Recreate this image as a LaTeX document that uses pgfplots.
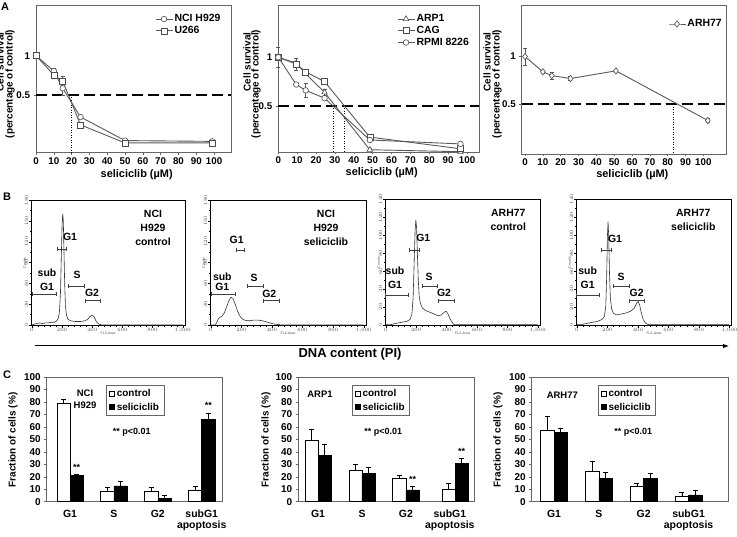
\documentclass[border=0pt]{standalone}
\usepackage{pgfplots}
\pgfplotsset{compat=1.18}
\usepackage{fontspec}
\setmainfont{Liberation Sans}
\usetikzlibrary{arrows.meta}
\newcommand{\fs}[1]{\fontsize{#1}{#1}\selectfont\bfseries}
\begin{document}
\begin{tikzpicture}[x=1bp,y=1bp]
\path[use as bounding box] (0,0) rectangle (737,537);
\pgfplotsset{
 pA/.style={scale only axis, anchor=south west, clip=false,
  axis line style={black!60, line width=0.6bp},
  tick pos=left, tick align=outside, major tick length=2.5bp,
  tick style={black!60, line width=0.6bp},
  /pgf/number format/assume math mode=true,
  ticklabel style={font=\fs{9.8}},
  xticklabel style={yshift=1bp},
  xtick={0,10,...,100}, ytick={0.5,1},
  legend style={draw=none, fill=none, font=\fs{10.5}, anchor=north west, row sep=0bp, inner sep=0bp, nodes={inner sep=1.5bp}},
  legend cell align=left,
  error bars/y dir=both, error bars/y explicit,
  error bars/error bar style={line width=0.6bp, black!65},
  error bars/error mark options={rotate=90, mark size=2bp, line width=0.6bp, black!65},
 },
 ln/.style={black!65, line width=0.9bp, mark options={fill=white, solid, line width=0.6bp, draw=black!70}},
 half/.style={black, line width=2.2bp, dash pattern=on 11bp off 5bp, error bars/y dir=none},
 vdot/.style={black, line width=0.5bp, dotted, error bars/y dir=none},
 pB/.style={scale only axis, anchor=south west, clip=false,
  axis line style={black, line width=0.5bp},
  xmin=-5, xmax=1015, xtick={0,200,...,1000}, minor x tick num=4, minor y tick num=1,
  tick pos=left, tick align=outside, major tick length=2bp, minor tick length=1bp,
  tick style={black, line width=0.3bp},
  ticklabel style={font=\fontsize{3.5}{4}\selectfont, inner sep=0.6bp, text=black!70},
  yticklabel style={rotate=90, anchor=south},
  xlabel={FL2-Area}, ylabel={Counts},
  label style={font=\fontsize{3.5}{4}\selectfont, text=black!70},
  xlabel style={yshift=5bp}, ylabel style={yshift=-5bp},
  height=125.7bp,
 },
 hist/.style={black!80, line width=0.6bp},
 pC/.style={scale only axis, anchor=south west, ybar, bar width=0.3,
  ymin=0, ymax=100, ytick={0,10,...,100},
  xtick={0,1,2,3}, xticklabels={G1,S,G2,{subG1\\apoptosis}},
  xticklabel style={align=center, font=\fontsize{10.5}{11.5}\selectfont\bfseries, yshift=-2bp},
  yticklabel style={font=\fs{10}},
  /pgf/number format/assume math mode=true,
  axis line style={black!60, line width=0.5bp}, tick pos=left, xtick style={draw=none},
  ytick style={black!60, line width=0.5bp}, major tick length=2.5bp, tick align=outside,
  height=124.7bp,
  error bars/y dir=plus, error bars/y explicit,
  error bars/error bar style={black, line width=0.6bp},
  error bars/error mark options={rotate=90, mark size=2.5bp, line width=0.6bp, black},
  legend image code/.code={\draw[#1] (0bp,-2.5bp) rectangle (5bp,2.5bp);},
  legend style={draw=black!60, line width=0.5bp, fill=white, anchor=north west, font=\fs{10}, inner xsep=3bp, inner ysep=2bp, row sep=1bp},
  legend cell align=left,
 },
 cbar/.style={fill=white, draw=black, line width=0.6bp, bar shift=-0.15},
 sbar/.style={fill=black, draw=black, line width=0.6bp, bar shift=0.15},
}
% ---------------- Panel A ----------------
\node[font=\fs{11}] at (5,530) {A};
\begin{axis}[pA, at={(36bp,384.3bp)}, width=195bp, height=147.7bp,
 xmin=0, xmax=109.5, ymin=-0.234, ymax=1.645,
 legend style={at={(axis description cs:0.61,0.946)}}]
\addplot[half, forget plot] coordinates {(0,0.5) (109.5,0.5)};
\addplot[vdot, forget plot] coordinates {(20,0.5) (20,-0.234)};
\addplot[ln, mark=*, mark size=2.8bp] coordinates {(0,1) +- (0,0.02) (10,0.805) +- (0,0.03) (15,0.585) +- (0,0.085) (25,0.22) +- (0,0.01) (50,-0.08) +- (0,0.01) (99,-0.09) +- (0,0.01)};
\addlegendentry{NCI H929}
\addplot[ln, mark=square*, mark size=3bp] coordinates {(0,1) +- (0,0.02) (10,0.754) +- (0,0.03) (15,0.678) +- (0,0.065) (25,0.12) +- (0,0.01) (50,-0.11) +- (0,0.01) (99,-0.11) +- (0,0.01)};
\addlegendentry{U266}
\end{axis}
\node[font=\fs{10}, rotate=90] at (0,475) {Cell survival};
\node[font=\fs{10}, rotate=90] at (10,453) {(percentage of control)};
\node[font=\fs{11}] at (136.7,362.5) {seliciclib (µM)};

\begin{axis}[pA, at={(278.3bp,385bp)}, width=201bp, height=147bp,
 xmin=0, xmax=106.5, ymin=0.027, ymax=1.537,
 legend style={at={(axis description cs:0.59,0.946)}}]
\addplot[half, forget plot] coordinates {(0,0.5) (106.5,0.5)};
\addplot[vdot, forget plot] coordinates {(29,0.5) (29,0.027)};
\addplot[vdot, forget plot] coordinates {(35,0.5) (35,0.027)};
\addplot[ln, mark=triangle*, mark size=3.2bp] coordinates {(0,1.0) +- (0,0.1) (9.5,0.94) +- (0,0.02) (14.5,0.83) +- (0,0.02) (24.5,0.64) +- (0,0.03) (48.5,0.05) +- (0,0.01) (96.5,0.03) +- (0,0.01)};
\addlegendentry{ARP1}
\addplot[ln, mark=square*, mark size=3bp] coordinates {(0,1.0) +- (0,0.03) (9.5,0.93) +- (0,0.06) (14.5,0.85) +- (0,0.02) (24.5,0.75) +- (0,0.01) (48.5,0.18) +- (0,0.01) (96.5,0.06) +- (0,0.01)};
\addlegendentry{CAG}
\addplot[ln, mark=*, mark size=2.8bp] coordinates {(0,1.0) +- (0,0.02) (9.5,0.72) +- (0,0.02) (14.5,0.66) +- (0,0.07) (24.5,0.58) +- (0,0.02) (48.5,0.15) +- (0,0.01) (96.5,0.11) +- (0,0.01)};
\addlegendentry{RPMI 8226}
\end{axis}
\node[font=\fs{10}, rotate=90] at (247,475) {Cell survival};
\node[font=\fs{10}, rotate=90] at (256,453) {(percentage of control)};
\node[font=\fs{11}] at (381.7,364) {seliciclib (µM)};

\begin{axis}[pA, at={(521.7bp,383bp)}, width=205bp, height=149bp,
 xmin=-1.85, xmax=113.1, ymin=-0.021, ymax=1.54,
 legend style={at={(axis description cs:0.713,0.913)}}]
\addplot[half, forget plot] coordinates {(-1.85,0.5) (113.1,0.5)};
\addplot[vdot, forget plot] coordinates {(83,0.5) (83,-0.021)};
\addplot[ln, mark=diamond*, mark size=3.2bp] coordinates {(0,1.0) +- (0,0.09) (10,0.84) +- (0,0.02) (15,0.80) +- (0,0.04) (25.5,0.77) +- (0,0.02) (51,0.85) +- (0,0.01) (102.5,0.33) +- (0,0.02)};
\addlegendentry{ARH77}
\end{axis}
\node[font=\fs{10}, rotate=90] at (487,475) {Cell survival};
\node[font=\fs{10}, rotate=90] at (497,453) {(percentage of control)};
\node[font=\fs{11}] at (632.3,362) {seliciclib (µM)};

% ---------------- Panel B ----------------
\node[font=\fs{11}] at (7,340) {B};
\begin{axis}[pB, at={(31bp,211.3bp)}, width=154bp, ymin=-1, ymax=180, ytick={0,30,...,180}]
\addplot[hist] coordinates {(0,0) (15,1) (30,2) (50,3) (70,2) (90,3) (110,3) (130,4) (150,4) (165,6) (175,9) (183,18) (190,45) (196,100) (201,145) (205,160) (209,150) (213,110) (218,60) (223,28) (230,14) (240,8) (260,6) (290,5) (320,5) (350,6) (370,8) (385,12) (400,14) (412,12) (425,6) (440,2) (460,0) (1000,0)};
\end{axis}
\begin{axis}[pB, at={(210bp,211.3bp)}, width=156bp, ymin=-1, ymax=180, ytick={0,30,...,180}]
\addplot[hist] coordinates {(0,0) (30,0) (40,4) (50,9) (60,11) (75,13) (90,18) (105,27) (120,36) (132,40) (145,38) (160,30) (175,20) (190,13) (205,9) (220,7) (250,6) (280,7) (310,7) (340,6) (370,4) (400,2) (430,1) (460,0) (1000,0)};
\end{axis}
\begin{axis}[pB, at={(385bp,211.3bp)}, width=155bp, height=126.4bp, ymin=-1, ymax=140, ytick={0,20,...,140}]
\addplot[hist] coordinates {(0,0) (30,0) (50,1) (80,2) (110,3) (140,4) (160,6) (172,12) (180,30) (187,70) (193,105) (198,117) (203,108) (208,80) (214,50) (220,32) (228,24) (240,19) (260,16) (290,14) (320,12) (345,10) (365,11) (385,14) (398,15) (410,12) (422,7) (435,3) (450,0) (1000,0)};
\end{axis}
\begin{axis}[pB, at={(576bp,211.3bp)}, width=155.7bp, height=126.4bp, ymin=-1, ymax=140, ytick={0,20,...,140}]
\addplot[hist] coordinates {(0,0) (30,0) (50,1) (80,2) (110,3) (140,4) (165,6) (180,9) (190,20) (196,55) (201,100) (205,115) (209,100) (214,60) (220,30) (228,18) (240,13) (260,11) (290,12) (320,13) (350,15) (375,18) (392,24) (402,26) (412,22) (422,14) (435,6) (450,2) (470,0) (1000,0)};
\end{axis}
\tikzset{brk/.style={black!75, line width=0.6bp, {Bar[width=4bp]}-{Bar[width=4bp]}},
 bl/.style={font=\fs{10.5}}, bt/.style={font=\fontsize{10.5}{14.3}\selectfont\bfseries, align=center}}
% B1
\node[bt] at (153,309.3) {NCI\\H929\\control};
\node[bl] at (70,300) {G1}; \draw[brk] (57,288) -- (67,288);
\node[bl] at (47,264) {sub}; \node[bl] at (47,250) {G1}; \draw[brk] (32,243) -- (57,243);
\node[bl] at (77,262) {S}; \draw[brk] (68,251) -- (85,251);
\node[bl] at (92,244) {G2}; \draw[brk] (85,236.3) -- (100.7,236.3);
% B2
\node[bt] at (326,309.3) {NCI\\H929\\seliciclib};
\node[bl] at (236.7,297) {G1}; \draw[brk] (236,287) -- (245,287);
\node[bl] at (222.3,260.3) {sub}; \node[bl] at (222.3,250.3) {G1}; \draw[brk] (211,242.7) -- (236,242.7);
\node[bl] at (254,258.7) {S}; \draw[brk] (246.7,251) -- (263.3,251);
\node[bl] at (269.3,242.7) {G2}; \draw[brk] (263.3,236.3) -- (279.3,236.3);
% B3
\node[font=\fontsize{10.5}{13.4}\selectfont\bfseries, align=center] at (508.3,317) {ARH77\\control};
\node[bl] at (423.3,298.7) {G1}; \draw[brk] (409.3,287) -- (420,287);
\node[bl] at (395,266.3) {sub}; \node[bl] at (395,252) {G1}; \draw[brk] (385,242) -- (408.3,242);
\node[bl] at (429,260.3) {S}; \draw[brk] (421.7,251) -- (437.7,251);
\node[bl] at (444,243.7) {G2}; \draw[brk] (437.7,236.3) -- (454.3,236.3);
% B4
\node[font=\fontsize{10.5}{13.4}\selectfont\bfseries, align=center] at (693.3,317) {ARH77\\seliciclib};
\node[bl] at (615,297.7) {G1}; \draw[brk] (600.7,287) -- (611.7,287);
\node[bl] at (587.7,266.3) {sub}; \node[bl] at (587.7,252) {G1}; \draw[brk] (576,242) -- (599.3,242);
\node[bl] at (621,260.3) {S}; \draw[brk] (612.7,251) -- (629.3,251);
\node[bl] at (636.7,243.7) {G2}; \draw[brk] (629.3,236.3) -- (645,236.3);
% DNA arrow
\draw[black, line width=1bp, -{Latex[length=6bp,width=4.5bp]}] (35,191) -- (729,191);
\node[font=\fs{13}] at (350,183) {DNA content (PI)};

% ---------------- Panel C ----------------
\node[font=\fs{11}] at (7,162) {C};
\begin{axis}[pC, at={(46.7bp,35.3bp)}, width=176bp, xmin=-0.531, xmax=3.478,
 legend style={at={(axis description cs:0.337,0.936)}}]
\addplot[cbar] coordinates {(0,78.9) +- (0,3.5) (1,8.1) +- (0,3.5) (2,8.1) +- (0,3.5) (3,8.9) +- (0,3.3)};
\addlegendentry{control}
\addplot[sbar] coordinates {(0,20.8) +- (0,1.0) (1,12.7) +- (0,3.5) (2,2.7) +- (0,2.2) (3,66.2) +- (0,4.6)};
\addlegendentry{seliciclib}
\node[font=\fs{9}] at (axis cs:0.15,27.5) {**};
\node[font=\fs{9}] at (axis cs:3.15,77.5) {**};
\end{axis}
\node[font=\fs{10}, rotate=90] at (13,97) {Fraction of cells (\%)};
\node[font=\fontsize{9.5}{12.7}\selectfont\bfseries, align=center] at (85,137.6) {NCI\\H929};
\node[font=\fs{9}] at (131.7,104.7) {** p<0.01};

\begin{axis}[pC, at={(298.3bp,35.3bp)}, width=175.7bp, xmin=-0.45, xmax=3.55,
 legend style={at={(axis description cs:0.304,0.936)}}]
\addplot[cbar] coordinates {(0,49.6) +- (0,8.7) (1,25.0) +- (0,5.0) (2,19.0) +- (0,2.3) (3.12,10) +- (0,5)};
\addlegendentry{control}
\addplot[sbar] coordinates {(0,37.3) +- (0,9.0) (1,22.9) +- (0,4.9) (2,9.5) +- (0,3.0) (3.12,31) +- (0,4)};
\addlegendentry{seliciclib}
\node[font=\fs{9}] at (axis cs:2.15,17.5) {**};
\node[font=\fs{9}] at (axis cs:3.27,40.5) {**};
\end{axis}
\node[font=\fs{10}, rotate=90] at (266,97) {Fraction of cells (\%)};
\node[font=\fs{9.5}] at (320,142.7) {ARP1};
\node[font=\fs{9}] at (383.3,104.7) {** p<0.01};

\begin{axis}[pC, at={(531.7bp,35.3bp)}, width=196.3bp, xmin=-0.498, xmax=3.88,
 legend style={at={(axis description cs:0.336,0.936)}}]
\addplot[cbar] coordinates {(0,57.5) +- (0,10.9) (1,24.4) +- (0,7.6) (2,12.7) +- (0,2.2) (3,4.6) +- (0,3.0)};
\addlegendentry{control}
\addplot[sbar] coordinates {(0,55.4) +- (0,3.4) (1,19.0) +- (0,4.4) (2,18.9) +- (0,4.1) (3,5.4) +- (0,4.1)};
\addlegendentry{seliciclib}
\end{axis}
\node[font=\fs{10}, rotate=90] at (498,97) {Fraction of cells (\%)};
\node[font=\fs{9.5}] at (562.3,141.3) {ARH77};
\node[font=\fs{9}] at (633.3,104.7) {** p<0.01};
\end{tikzpicture}
\end{document}
